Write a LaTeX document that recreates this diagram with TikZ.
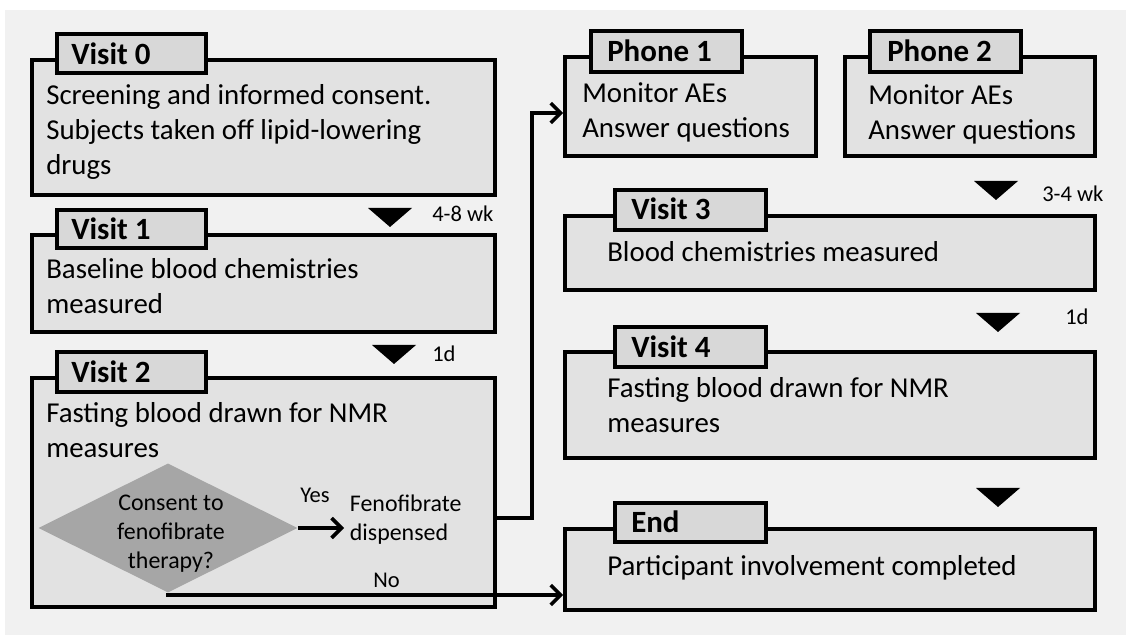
\documentclass[tikz,border=0pt]{standalone}
\usepackage{fontspec}
\setmainfont{Carlito}
\usetikzlibrary{fit,shapes.geometric,arrows.meta}

\definecolor{bggray}{RGB}{241,241,241}
\definecolor{boxgray}{RGB}{226,226,226}
\definecolor{tabgray}{RGB}{216,216,216}
\definecolor{diagray}{RGB}{166,166,166}

\tikzset{
  box/.style={draw, line width=2.6pt, fill=boxgray, inner sep=0pt},
  tab/.style={draw, line width=2.6pt, fill=tabgray, inner sep=0pt},
  tablabel/.style={anchor=base west, inner sep=0pt, font=\fontsize{22}{26}\selectfont\bfseries},
  bodytext/.style={anchor=base west, inner sep=0pt, align=left, font=\fontsize{20.5}{25}\selectfont},
  small/.style={anchor=base west, inner sep=0pt, font=\fontsize{16}{19}\selectfont},
  conn/.style={line width=2.6pt, -{Straight Barb[length=7pt,width=14pt,line width=2.6pt]}},
}

\begin{document}
\begin{tikzpicture}[x=0.025cm,y=-0.025cm]
  \useasboundingbox (0,0) rectangle (1126,635);
  \fill[bggray] (5,10) rectangle (1126,635);

  % left column (text nodes sit on the baseline of their last line)
  \node[box, fit={(32,60) (495,195)}] (v0) {};
  \node[tab, fit={(57,34) (206,73)}] (v0tab) {};
  \node[tablabel] (v0lab) at (71,65) {Visit 0};
  \node[bodytext] (v0txt) at (46,175) {Screening and informed consent.\\Subjects taken off lipid-lowering\\drugs};

  \node[box, fit={(32,235) (495,332)}] (v1) {};
  \node[tab, fit={(57,210) (206,248)}] (v1tab) {};
  \node[tablabel] (v1lab) at (71,240) {Visit 1};
  \node[bodytext] (v1txt) at (46,314) {Baseline blood chemistries\\measured};

  \node[box, fit={(32,378) (495,607)}] (v2) {};
  \node[tab, fit={(57,352) (206,392)}] (v2tab) {};
  \node[tablabel] (v2lab) at (71,383) {Visit 2};
  \node[bodytext] (v2txt) at (46,458) {Fasting blood drawn for NMR\\measures};

  % decision inside visit 2
  \node[diamond, fill=diagray, inner sep=0pt, minimum width=6.475cm, minimum height=3.225cm] (dia) at (168,528) {};
  \node[align=center, inner sep=0pt, font=\fontsize{17}{20.6}\selectfont] (diatxt) at (171,534) {Consent to\\fenofibrate\\therapy?};
  \node[bodytext, font=\fontsize{17}{20}\selectfont, inner xsep=4pt] (feno) at (344,540) {Fenofibrate\\dispensed};
  \node[small] (yes) at (300,503) {Yes};
  \node[small] (no) at (373,588) {No};

  % right column
  \node[box, fit={(565,57) (816,156)}] (p1) {};
  \node[tab, fit={(591,31) (742,72)}] (p1tab) {};
  \node[tablabel] (p1lab) at (607,62) {Phone 1};
  \node[bodytext] (p1txt) at (582,138) {Monitor AEs\\Answer questions};

  \node[box, fit={(845,57) (1095,156)}] (p2) {};
  \node[tab, fit={(870,31) (1021,72)}] (p2tab) {};
  \node[tablabel] (p2lab) at (887,62) {Phone 2};
  \node[bodytext] (p2txt) at (868,140) {Monitor AEs\\Answer questions};

  \node[box, fit={(565,216) (1095,290)}] (v3) {};
  \node[tab, fit={(615,190) (766,230)}] (v3tab) {};
  \node[tablabel] (v3lab) at (631,220) {Visit 3};
  \node[bodytext] (v3txt) at (607,262) {Blood chemistries measured};

  \node[box, fit={(565,352) (1095,458)}] (v4) {};
  \node[tab, fit={(615,327) (766,367)}] (v4tab) {};
  \node[tablabel] (v4lab) at (631,358) {Visit 4};
  \node[bodytext] (v4txt) at (607,433) {Fasting blood drawn for NMR\\measures};

  \node[box, fit={(565,529) (1095,610)}] (endb) {};
  \node[tab, fit={(615,503) (766,542)}] (endtab) {};
  \node[tablabel] (endlab) at (631,533) {End};
  \node[bodytext] (endtxt) at (607,575) {Participant involvement completed};

  % time steps
  \foreach \x/\y in {390/208, 394/345, 996/181, 998/313, 998/488}
    \fill (\x-22,\y) -- (\x+22,\y) -- (\x,\y+19) -- cycle;
  \node[small] (t01) at (432,222) {4-8 wk};
  \node[small] (t12) at (432,362) {1d};
  \node[small] (t23) at (1042,202) {3-4 wk};
  \node[small] (t34) at (1065,325) {1d};

  % connectors
  \draw[conn] (dia.east) -- (dia.east -| feno.west);
  \draw[conn] (v2.east |- 0,518) -| (532,113) -- (p1.west |- 0,113);
  \draw[conn] (dia.south) |- (endb.west |- 0,595);
\end{tikzpicture}
\end{document}
